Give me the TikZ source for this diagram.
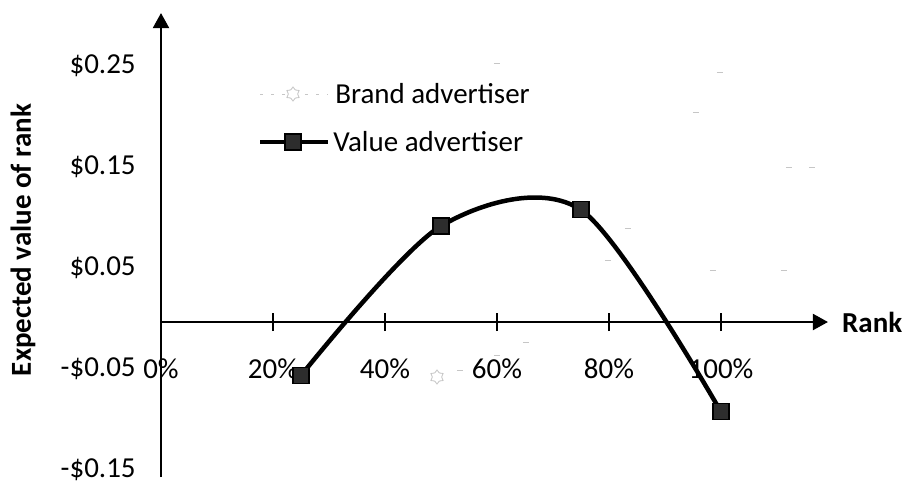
\documentclass[tikz,border=0pt]{standalone}
\usepackage{fontspec}
\setmainfont{Carlito}
\usepackage{tikz}
\usetikzlibrary{arrows.meta,positioning,shapes.geometric}
\newcommand{\chartfont}{\fontsize{20.6pt}{25pt}\selectfont}
\tikzset{%
	axis/.style      = {line width=1.8pt,-{Triangle[length=0.38cm,width=0.4cm]}},
	tick/.style      = {line width=1.4pt},
	valline/.style   = {line width=3.2pt},
	valmark/.style   = {draw=black, line width=0.8pt, fill=gray!35!black, rectangle, minimum size=0.4cm, inner sep=0pt},
	brandmark/.style = {draw=gray!45, line width=0.6pt},
	every node/.style= {font=\chartfont},
}

\begin{document}
\begin{tikzpicture}
	\useasboundingbox (-4.025,-4.15) rectangle (18.7,8.05);
	
	\draw[axis] (0,0) -- (16.675,0) coordinate (xend);  % x Axis
	\draw[axis] (0,-3.875) -- (0,7.725) coordinate (yend);  % y Axis
	\node[font=\chartfont\bfseries, right=0.23cm of xend] (xlab) {Rank};
	\node[font=\chartfont\bfseries, rotate=90] (ylab) at (-3.45,2.05) {Expected value of rank};
	
	% ticks and labels
	\foreach \p in {20,40,...,100}
		\draw[tick] (\p*0.14,-0.225) -- (\p*0.14,0.225);
	\foreach \p in {0,20,...,100}
		\node (xt\p) at (\p*0.14,-1.175) {\p\%};
	\foreach \v/\t [count=\i] in {0.25/\$0.25, 0.15/\$0.15, 0.05/\$0.05, -0.05/-\$0.05, -0.15/-\$0.15}
		\node[anchor=east] (yt\i) at (-0.51,\v*25.25+0.1) {\t};
	
	% value advertiser
	\coordinate (p1) at (3.5,-1.338);
	\coordinate (p2) at (7.0,2.399);
	\coordinate (p3) at (10.5,2.803);
	\coordinate (p4) at (14.0,-2.247);
	\draw[valline] plot[smooth] coordinates {(p1) (p2) (p3) (p4)};
	\foreach \i in {1,...,4}
		\node[valmark] (m\i) at (p\i) {};
	
	% brand advertiser (faint)
	\foreach \x/\y in {13.975/6.25, 13.375/5.25, 15.7/3.875, 16.275/3.875, 11.675/2.35, 11.175/1.55, 13.8/1.3, 15.575/1.3, 8.4/6.475, 9.125/-0.5, 8.4/-0.825, 7.475/-1.2}
		\draw[brandmark] (\x-0.08,\y) -- (\x+0.08,\y);
	\node[star, star points=6, brandmark, minimum size=0.35cm, inner sep=0pt] (bm0) at (6.9,-1.375) {};
	
	% legend
	\coordinate (lb0) at (2.475,5.7);
	\coordinate (lb1) at (4.175,5.7);
	\draw[brandmark, dash pattern=on 2pt off 6pt] (lb0) -- (lb1);
	\node[star, star points=6, brandmark, fill=white, minimum size=0.35cm, inner sep=0pt] (bm) at (3.3,5.7) {};
	\node[anchor=west, inner sep=0pt] (brand) at (4.35,5.7) {Brand advertiser};
	
	\coordinate (lv0) at (2.475,4.5);
	\coordinate (lv1) at (4.175,4.5);
	\draw[valline] (lv0) -- (lv1);
	\node[valmark] (vm) at (3.3,4.5) {};
	\node[anchor=west, inner sep=0pt] (value) at (4.3,4.5) {Value advertiser};
	\end{tikzpicture}
\end{document}
